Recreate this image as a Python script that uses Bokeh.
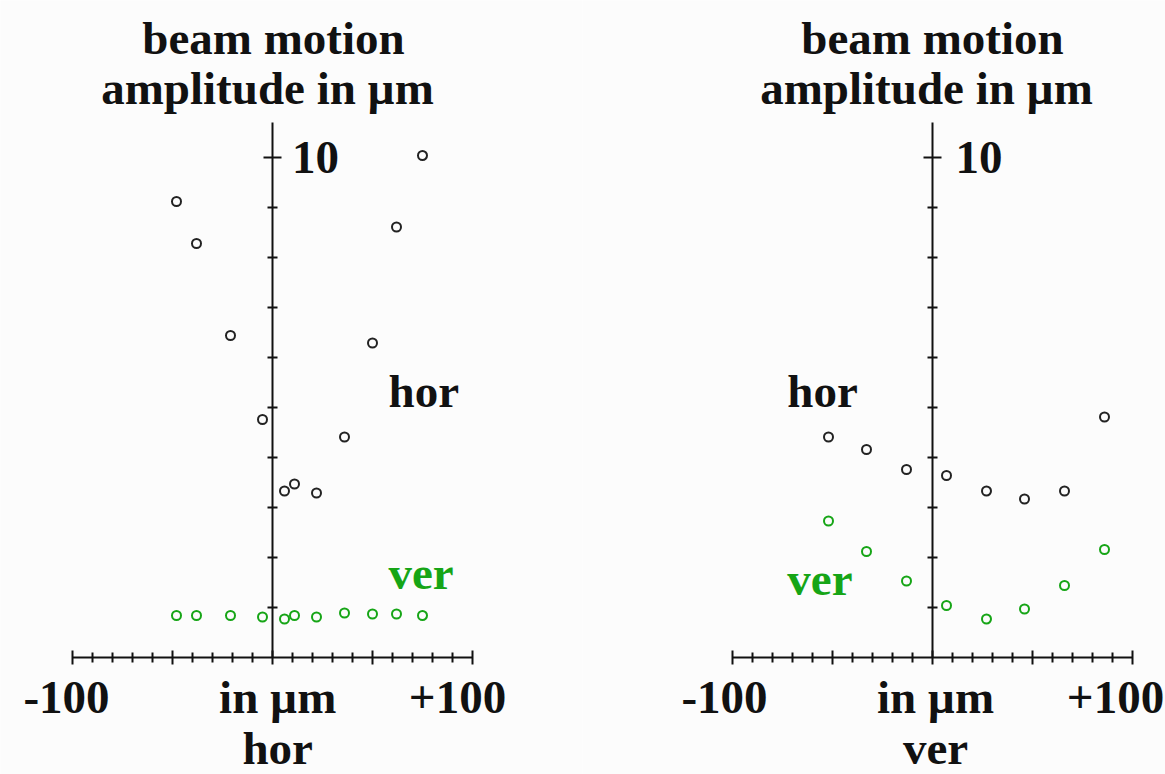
from bokeh.plotting import figure
from bokeh.layouts import row
from bokeh.models import FixedTicker, Range1d
from bokeh.core.properties import value
from bokeh.embed import file_html
from bokeh.resources import INLINE

# Beam position scan in the horizontal plane (positions in µm)
hor_scan_pos = [-48, -38, -21, -5, 6, 11, 22, 36, 50, 62, 75]
hor_scan_amp_hor = [9.12, 8.28, 6.44, 4.76, 3.33, 3.47, 3.29, 4.41, 6.29, 8.61, 10.04]
hor_scan_amp_ver = [0.84, 0.84, 0.84, 0.81, 0.77, 0.84, 0.81, 0.89, 0.87, 0.87, 0.84]

# Beam position scan in the vertical plane (positions in µm)
ver_scan_pos = [-52, -33, -13, 7, 27, 46, 66, 86]
ver_scan_amp_hor = [4.41, 4.16, 3.76, 3.64, 3.33, 3.17, 3.33, 4.81]
ver_scan_amp_ver = [2.73, 2.12, 1.53, 1.04, 0.77, 0.97, 1.44, 2.16]

x_major_ticks = [-100, -50, 0, 50, 100]
x_minor_ticks = [-90, -80, -70, -60, -40, -30, -20, -10, 10, 20, 30, 40, 60, 70, 80, 90]
y_major_ticks = [10]
y_minor_ticks = [1, 2, 3, 4, 5, 6, 7, 8, 9]

BG = "#fcfcfc"
INK = "#111111"
GREEN = "#16a516"
FONT = value("Liberation Serif")
FS = "47px"
# the alphabetic baseline sits a little low in the svg output; lift labels
BASE_LIFT = 0.33


def label(p, x, y, text, color=INK, align="center"):
    p.text(x=[x], y=[y + BASE_LIFT], text=[text], text_font=FONT,
           text_font_style="bold", text_font_size=FS, text_color=color,
           text_align=align, text_baseline="alphabetic")


def panel(width, x_start, pos, amp_hor, amp_ver, scan_name,
          title_dx, hor_xy, ver_xy, ten_x, in_um_x, plus_x, minus_x):
    p = figure(width=width, height=774, output_backend="svg", toolbar_location=None,
               x_range=Range1d(x_start, x_start + width / 2.0),
               y_range=Range1d(-2.34, 13.14), min_border=0,
               background_fill_color=BG, border_fill_color=BG,
               outline_line_color=None)
    p.grid.visible = False

    xa = p.xaxis[0]
    xa.fixed_location = 0
    xa.bounds = (-100, 100)
    xa.ticker = FixedTicker(ticks=x_major_ticks, minor_ticks=x_minor_ticks)
    xa.axis_line_width = 2
    xa.axis_line_color = INK
    xa.major_tick_line_width = 2
    xa.major_tick_line_color = INK
    xa.minor_tick_line_width = 2
    xa.minor_tick_line_color = INK
    xa.major_tick_in = 7
    xa.major_tick_out = 7
    xa.minor_tick_in = 5
    xa.minor_tick_out = 5
    xa.major_label_text_font_size = "0px"
    xa.major_label_overrides = {t: "" for t in x_major_ticks}

    ya = p.yaxis[0]
    ya.fixed_location = 0
    ya.bounds = (0, 10.7)
    ya.ticker = FixedTicker(ticks=y_major_ticks, minor_ticks=y_minor_ticks)
    ya.axis_line_width = 2
    ya.axis_line_color = INK
    ya.major_tick_line_width = 2
    ya.major_tick_line_color = INK
    ya.minor_tick_line_width = 2
    ya.minor_tick_line_color = INK
    ya.major_tick_in = 9
    ya.major_tick_out = 9
    ya.minor_tick_in = 5
    ya.minor_tick_out = 5
    ya.major_label_text_font_size = "0px"
    ya.major_label_overrides = {t: "" for t in y_major_ticks}

    p.scatter(pos, amp_hor, marker="circle", size=9, fill_color=None,
              line_color="#222222", line_width=2)
    p.scatter(pos, amp_ver, marker="circle", size=9, fill_color=None,
              line_color=GREEN, line_width=2)

    label(p, title_dx, 12.06, "beam motion")
    label(p, title_dx - 3, 11.06, "amplitude in µm")
    label(p, ten_x, 9.68, "10", align="left")
    label(p, hor_xy[0], hor_xy[1], "hor", align="left")
    label(p, ver_xy[0], ver_xy[1], "ver", color=GREEN, align="left")
    label(p, minus_x, -1.12, "-100")
    label(p, in_um_x, -1.12, "in µm")
    label(p, plus_x, -1.12, "+100")
    label(p, in_um_x, -2.13, scan_name)
    return p


left = panel(582, -136, hor_scan_pos, hor_scan_amp_hor, hor_scan_amp_ver, "hor",
             title_dx=0.5, hor_xy=(58, 5.0), ver_xy=(58, 1.36),
             ten_x=9.8, in_um_x=2.6, plus_x=92.5, minus_x=-103)
right = panel(583, -175, ver_scan_pos, ver_scan_amp_hor, ver_scan_amp_ver, "ver",
              title_dx=0.0, hor_xy=(-72.6, 5.0), ver_xy=(-72.6, 1.24),
              ten_x=11.5, in_um_x=1.5, plus_x=91.5, minus_x=-104)

layout = row(left, right, spacing=0)
open("out.html", "w").write(file_html(layout, INLINE))
